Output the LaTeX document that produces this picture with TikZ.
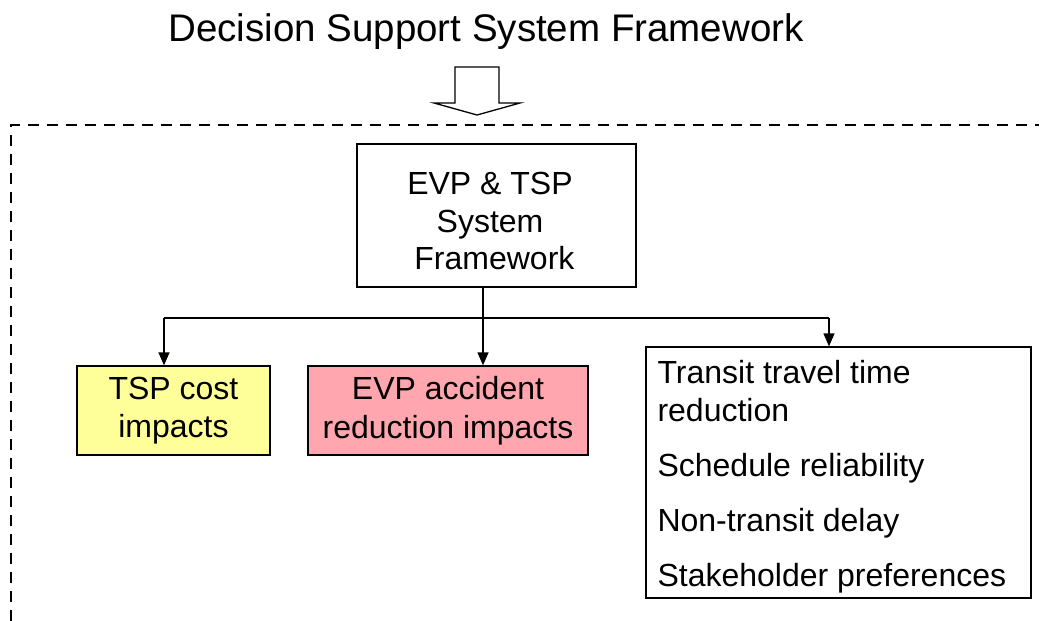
\documentclass[tikz,border=0pt]{standalone}
\usepackage{fontspec}
\setmainfont{Liberation Sans}
\usetikzlibrary{arrows.meta}
\definecolor{boxyellow}{RGB}{255,255,153}
\definecolor{boxpink}{RGB}{255,166,174}
\tikzset{
  box/.style={draw=black, line width=1.3pt, inner sep=0pt, align=center,
    font=\fontsize{32}{38.5}\selectfont},
  conn/.style={line width=1.3pt},
  arr/.style={line width=1.3pt, -{Triangle[length=13pt,width=11pt]}},
  frame/.style={line width=1.6pt, dash pattern=on 11pt off 8pt},
}
\begin{document}
\begin{tikzpicture}[x=1pt,y=-1pt]
\useasboundingbox (0,0) rectangle (1039,621);
% title
\node[font=\fontsize{38.5}{44}\selectfont] (title) at (486,32) {Decision Support System Framework};
% big hollow arrow
\draw[line width=1.3pt, line join=miter] (455,67) -- (499,67) -- (499,103) -- (520,103) -- (477,115) -- (434,103) -- (455,103) -- cycle;
% dashed frame
\draw[frame] (11,621) -- (11,125) -- (1039,125);
% nodes
\node[box, minimum width=279pt, minimum height=143pt] (top) at (496.5,215.5) {};
\node[font=\fontsize{32}{37.5}\selectfont, align=center] (toptext) at (490,221)
  {EVP \& TSP\\System\\\ Framework};
\node[box, fill=boxyellow, minimum width=193pt, minimum height=89pt] (yellow) at (173.5,410.5)
  {TSP cost\\impacts};
\node[box, fill=boxpink, minimum width=280pt, minimum height=89pt] (pink) at (448,410.5)
  {EVP accident\\reduction impacts};
\node[box, align=left, text width=361pt, inner xsep=12pt, minimum height=251pt] (right) at (838.5,472.5) {};
\node[font=\fontsize{32}{38}\selectfont, align=left, anchor=west] (righttext) at (654,476.5)
  {Transit travel time\\reduction\\[17pt]Schedule reliability\\[17pt]Non-transit delay\\[17pt]Stakeholder preferences};
% connectors
\coordinate (j) at (483,318);
\coordinate (jl) at (164,318);
\coordinate (jr) at (829,318);
\draw[conn] (top.south -| j) -- (j);
\draw[conn] (jl) -- (jr);
\draw[arr] (j) -- (j |- pink.north);
\draw[arr] (jl) -- (jl |- yellow.north);
\draw[arr] (jr) -- (jr |- right.north);
\end{tikzpicture}
\end{document}
